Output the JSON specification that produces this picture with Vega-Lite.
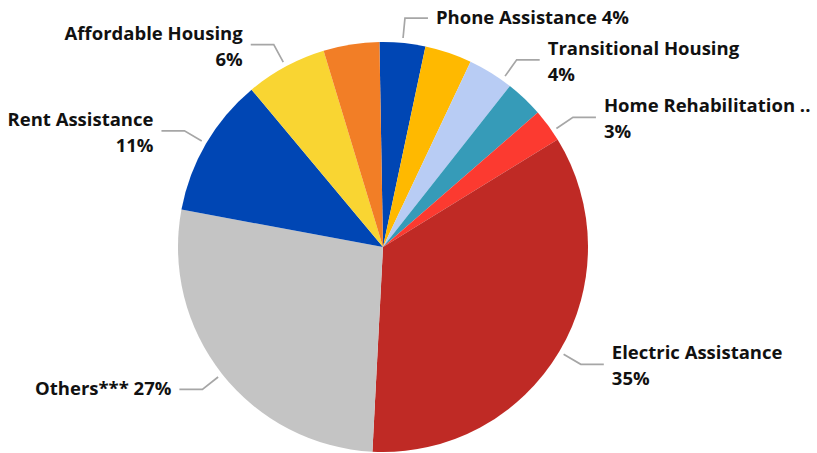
{
  "$schema": "https://vega.github.io/schema/vega-lite/v6.json",
  "width": 766,
  "height": 412,
  "autosize": "none",
  "padding": {"left": 0, "top": 41, "right": 51, "bottom": 0},
  "background": "white",
  "config": {"view": {"stroke": null}},
  "data": {
    "values": [
      {"category": "Phone Assistance", "share": 3.6},
      {"category": "Utility Assistance", "share": 3.7},
      {"category": "Transitional Housing", "share": 3.6},
      {"category": "Emergency Shelter", "share": 3.0},
      {"category": "Home Rehabilitation ..", "share": 2.6},
      {"category": "Electric Assistance", "share": 34.6},
      {"category": "Others***", "share": 27.1},
      {"category": "Rent Assistance", "share": 11.0},
      {"category": "Affordable Housing", "share": 6.4},
      {"category": "Weatherization", "share": 4.4}
    ]
  },
  "transform": [
    {"window": [{"op": "row_number", "as": "idx"}]},
    {"window": [{"op": "sum", "field": "share", "as": "cum"}], "sort": [{"field": "idx"}], "frame": [null, 0]},
    {"joinaggregate": [{"op": "sum", "field": "share", "as": "total"}]},
    {"calculate": "(datum.cum - datum.share / 2) / datum.total * 2 * PI - 0.01745 + (datum.category === 'Transitional Housing' ? 0.066 : datum.category === 'Home Rehabilitation ..' ? 0.034 : 0)", "as": "mid"},
    {"calculate": "sin(datum.mid) >= 0 ? 1 : -1", "as": "side"},
    {"calculate": "datum.share / datum.total", "as": "pct"},
    {"calculate": "indexof(['Utility Assistance', 'Emergency Shelter', 'Weatherization'], datum.category) < 0", "as": "shown"},
    {"calculate": "(datum.category === 'Phone Assistance' || datum.category === 'Others***') ? 1 : 2", "as": "nlines"},
    {"calculate": "datum.category + (datum.nlines == 1 ? ' ' : '\\n') + format(datum.pct, '.0%')", "as": "label"}
  ],
  "layer": [
    {
      "mark": {"type": "arc", "outerRadius": 205},
      "encoding": {
        "theta": {"field": "share", "type": "quantitative", "stack": true, "scale": {"range": [-0.01745, 6.26574]}},
        "order": {"field": "idx", "type": "quantitative"},
        "color": {
          "field": "category",
          "type": "nominal",
          "legend": null,
          "scale": {
            "domain": ["Phone Assistance", "Utility Assistance", "Transitional Housing", "Emergency Shelter", "Home Rehabilitation ..", "Electric Assistance", "Others***", "Rent Assistance", "Affordable Housing", "Weatherization"],
            "range": ["#0046B4", "#FFB900", "#B8CCF4", "#369BB8", "#FC3A30", "#BF2A25", "#C4C4C4", "#0046B4", "#F9D532", "#F27E26"]
          }
        }
      }
    },
    {
      "transform": [
        {"filter": "datum.shown"},
        {"calculate": "[0, 1, 2]", "as": "pt"},
        {"flatten": ["pt"]},
        {"calculate": "(datum.pt == 0 ? 210 : 230) * sin(datum.mid) + (datum.pt == 2 ? 23 * datum.side : 0)", "as": "px"},
        {"calculate": "(datum.pt == 0 ? 210 : 230) * cos(datum.mid)", "as": "py"}
      ],
      "mark": {"type": "line", "color": "#A6A6A6", "strokeWidth": 1.7},
      "encoding": {
        "x": {"field": "px", "type": "quantitative", "axis": null, "scale": {"domain": [-383, 383], "nice": false, "zero": false}},
        "y": {"field": "py", "type": "quantitative", "axis": null, "scale": {"domain": [-206, 206], "nice": false, "zero": false}},
        "detail": {"field": "category"},
        "order": {"field": "pt", "type": "quantitative"}
      }
    },
    {
      "transform": [
        {"filter": "datum.shown && datum.side > 0"},
        {"calculate": "230 * sin(datum.mid) + 31", "as": "tx"},
        {"calculate": "230 * cos(datum.mid) + (datum.nlines - 1) * 11", "as": "ty"}
      ],
      "mark": {"type": "text", "align": "left", "baseline": "middle", "lineBreak": "\n", "lineHeight": 26, "font": "Open Sans", "fontWeight": "bold", "fontSize": 18.5, "color": "#111111"},
      "encoding": {
        "x": {"field": "tx", "type": "quantitative", "axis": null, "scale": {"domain": [-383, 383], "nice": false, "zero": false}},
        "y": {"field": "ty", "type": "quantitative", "axis": null, "scale": {"domain": [-206, 206], "nice": false, "zero": false}},
        "text": {"field": "label"}
      }
    },
    {
      "transform": [
        {"filter": "datum.shown && datum.side < 0"},
        {"calculate": "230 * sin(datum.mid) - 31", "as": "tx"},
        {"calculate": "230 * cos(datum.mid) + (datum.nlines - 1) * 11", "as": "ty"}
      ],
      "mark": {"type": "text", "align": "right", "baseline": "middle", "lineBreak": "\n", "lineHeight": 26, "font": "Open Sans", "fontWeight": "bold", "fontSize": 18.5, "color": "#111111"},
      "encoding": {
        "x": {"field": "tx", "type": "quantitative", "axis": null, "scale": {"domain": [-383, 383], "nice": false, "zero": false}},
        "y": {"field": "ty", "type": "quantitative", "axis": null, "scale": {"domain": [-206, 206], "nice": false, "zero": false}},
        "text": {"field": "label"}
      }
    }
  ]
}
